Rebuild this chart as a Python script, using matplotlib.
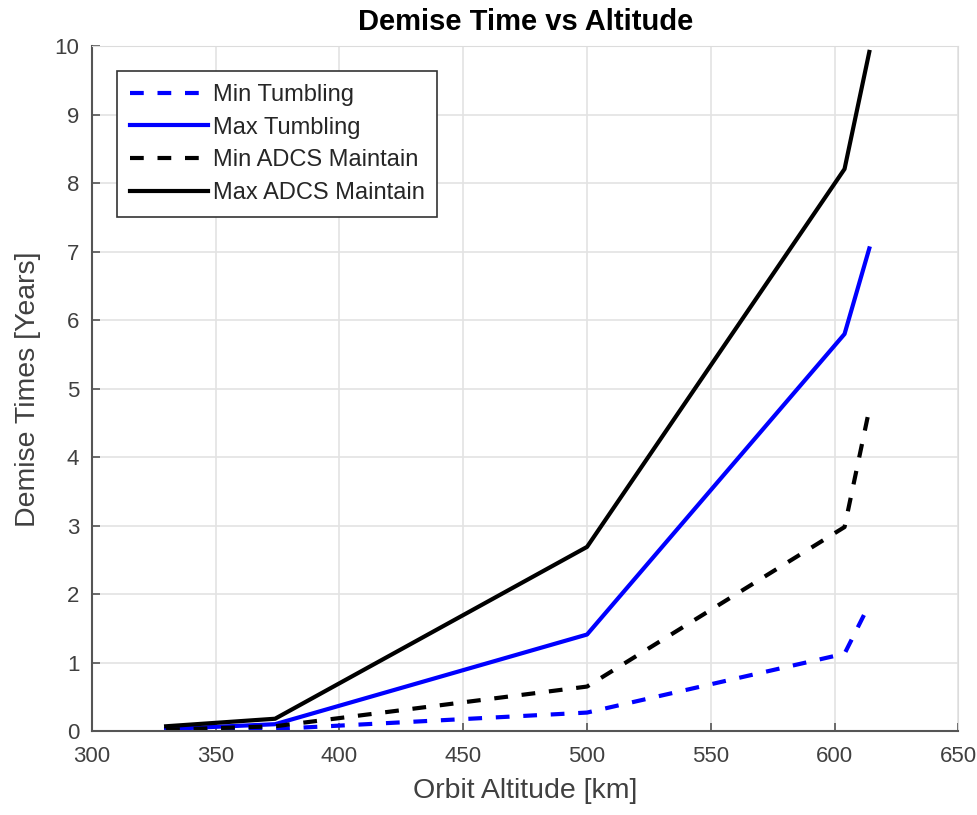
import matplotlib
matplotlib.use("Agg")
import matplotlib.pyplot as plt

plt.rcParams['font.family'] = ['Liberation Sans', 'DejaVu Sans']

# orbit altitudes [km] and demise times [years]
altitude = [330, 374, 500, 604, 614]
min_tumbling = [0.01, 0.03, 0.27, 1.13, 1.85]
max_tumbling = [0.03, 0.10, 1.41, 5.80, 7.05]
min_adcs = [0.02, 0.07, 0.65, 2.98, 4.70]
max_adcs = [0.07, 0.18, 2.69, 8.21, 9.92]

labels = ["Min Tumbling", "Max Tumbling", "Min ADCS Maintain", "Max ADCS Maintain"]

fig = plt.figure(figsize=(9.77, 8.15), dpi=100)
ax = fig.add_axes([0.094, 0.103, 0.887, 0.840])

ax.plot(altitude, min_tumbling, color='#0000ff', lw=3, ls=(0, (3.3, 3.3)), label=labels[0])
ax.plot(altitude, max_tumbling, color='#0000ff', lw=3, label=labels[1])
ax.plot(altitude, min_adcs, color='black', lw=3, ls=(0, (3.3, 3.3)), label=labels[2])
ax.plot(altitude, max_adcs, color='black', lw=3, label=labels[3])

ax.set_xlim(300, 650)
ax.set_ylim(0, 10)
ax.set_xticks(range(300, 651, 50))
ax.set_yticks(range(0, 11))
ax.grid(True, color='#e3e3e3', lw=1.2)
ax.set_axisbelow(True)

for s in ['top', 'right']:
    ax.spines[s].set_color('#dcdcdc')
for s in ['left', 'bottom']:
    ax.spines[s].set_color('#555555')
    ax.spines[s].set_linewidth(1.5)

ax.tick_params(direction='in', length=6, width=1.2, color='#555555',
               labelsize=16, labelcolor='#404040')
ax.tick_params(axis='x', pad=11)
ax.tick_params(axis='y', pad=9)

ax.set_title("Demise Time vs Altitude", fontsize=21, fontweight='bold', pad=12)
ax.set_xlabel("Orbit Altitude [km]", fontsize=20.5, color='#404040', labelpad=8)
ax.set_ylabel("Demise Times [Years]", fontsize=20.5, color='#404040', labelpad=10)

leg = ax.legend(loc='upper left', bbox_to_anchor=(0.029, 0.964), fontsize=17,
                handlelength=3.3, handletextpad=0.2, labelspacing=0.45,
                borderpad=0.55, borderaxespad=0, fancybox=False, framealpha=1)
leg.get_frame().set_edgecolor('#333333')
leg.get_frame().set_linewidth(1.2)
for t in leg.get_texts():
    t.set_color('#262626')

fig.savefig("out.png", dpi=100)
